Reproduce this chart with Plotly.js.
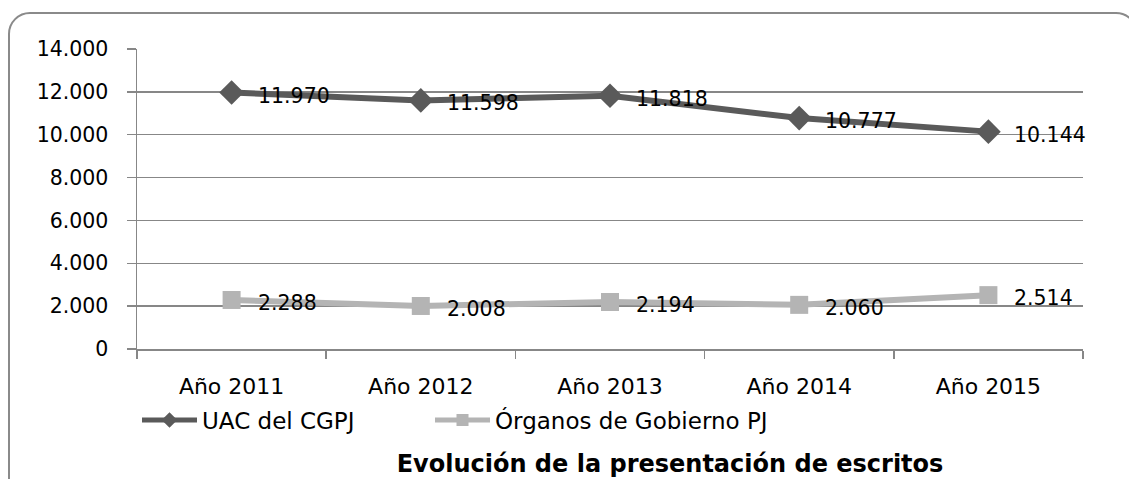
<!DOCTYPE html>
<html>
<head>
<meta charset="utf-8">
<script src="https://cdn.plot.ly/plotly-3.0.1.min.js"></script>
<style>
html,body{margin:0;padding:0;background:#fff;overflow:hidden;}
#wrap{position:relative;width:1129px;height:479px;}
#frame{position:absolute;left:8px;top:12px;width:1130px;height:490px;border:2px solid #8a8a8a;border-radius:22px;box-sizing:border-box;}
#chart{position:absolute;left:0;top:0;width:1129px;height:479px;}
</style>
</head>
<body>
<div id="wrap"><div id="frame"></div><div id="chart"></div></div>
<script>
const categories = ["Año 2011","Año 2012","Año 2013","Año 2014","Año 2015"];
const seriesNames = ["UAC del CGPJ","Órganos de Gobierno PJ"];
const uacValues = [11970, 11598, 11818, 10777, 10144];
const organosValues = [2288, 2008, 2194, 2060, 2514];
const yTickVals = [0,2000,4000,6000,8000,10000,12000,14000];
const chartTitle = "Evolución de la presentación de escritos";

const font = "DejaVu Sans, Verdana, sans-serif";
function fmt(v){ return String(v).replace(/\B(?=(\d{3})+(?!\d))/g, "."); }

const traces = [
  {
    x: categories, y: uacValues, name: seriesNames[0], type: "scatter",
    mode: "lines+markers", legend: "legend",
    line: {color: "#5a5a5a", width: 6},
    marker: {symbol: "diamond", size: 19, color: "#5a5a5a"}
  },
  {
    x: categories, y: organosValues, name: seriesNames[1], type: "scatter",
    mode: "lines+markers", legend: "legend2",
    line: {color: "#b4b4b4", width: 6},
    marker: {symbol: "square", size: 18, color: "#b4b4b4"}
  }
];
const annotations = [];
[uacValues, organosValues].forEach(function(vals){
  vals.forEach(function(v, i){
    annotations.push({x: categories[i], y: v, xref: "x", yref: "y", text: fmt(v),
      showarrow: false, xanchor: "left", yanchor: "middle", xshift: 24, yshift: -3,
      font: {family: font, size: 20.5, color: "#000"}});
  });
});
const legendBase = {
  orientation: "h", xanchor: "left", y: -0.237, yanchor: "middle",
  font: {family: font, size: 23, color: "#000"},
  itemwidth: 55, itemsizing: "constant",
  bgcolor: "rgba(0,0,0,0)"
};
const layout = {
  width: 1129, height: 479,
  margin: {l: 137, r: 46, t: 49, b: 130},
  paper_bgcolor: "rgba(0,0,0,0)", plot_bgcolor: "rgba(0,0,0,0)",
  separators: ",.",
  font: {family: font, size: 20, color: "#000"},
  showlegend: true,
  annotations: annotations,
  title: {text: "<b>" + chartTitle + "</b>", x: 670/1129, xanchor: "center", y: 1 - 464/479, yanchor: "middle", yref: "container", font: {family: font, size: 24, color: "#000"}},
  xaxis: {
    type: "category", range: [-0.5, 4.5], tickson: "boundaries",
    ticks: "outside", ticklen: 8, tickcolor: "#878787", tickwidth: 1.5,
    showline: true, linecolor: "#878787", linewidth: 1.5,
    showgrid: false, zeroline: false, ticklabelstandoff: 17,
    tickfont: {family: font, size: 22, color: "#000"}, fixedrange: true
  },
  yaxis: {
    range: [0, 14000], tickvals: yTickVals, tickformat: ",d",
    ticks: "outside", ticklen: 9, tickcolor: "#878787", tickwidth: 1.5,
    showline: true, linecolor: "#878787", linewidth: 1.5,
    showgrid: true, gridcolor: "#878787", gridwidth: 1.5, zeroline: false,
    ticklabelstandoff: 14,
    tickfont: {family: font, size: 20.5, color: "#000"}, fixedrange: true
  },
  legend: Object.assign({}, legendBase, {x: 0.0}),
  legend2: Object.assign({}, legendBase, {x: (430 - 137) / 946})
};
Plotly.newPlot("chart", traces, layout, {displayModeBar: false, staticPlot: true});
</script>
</body>
</html>
